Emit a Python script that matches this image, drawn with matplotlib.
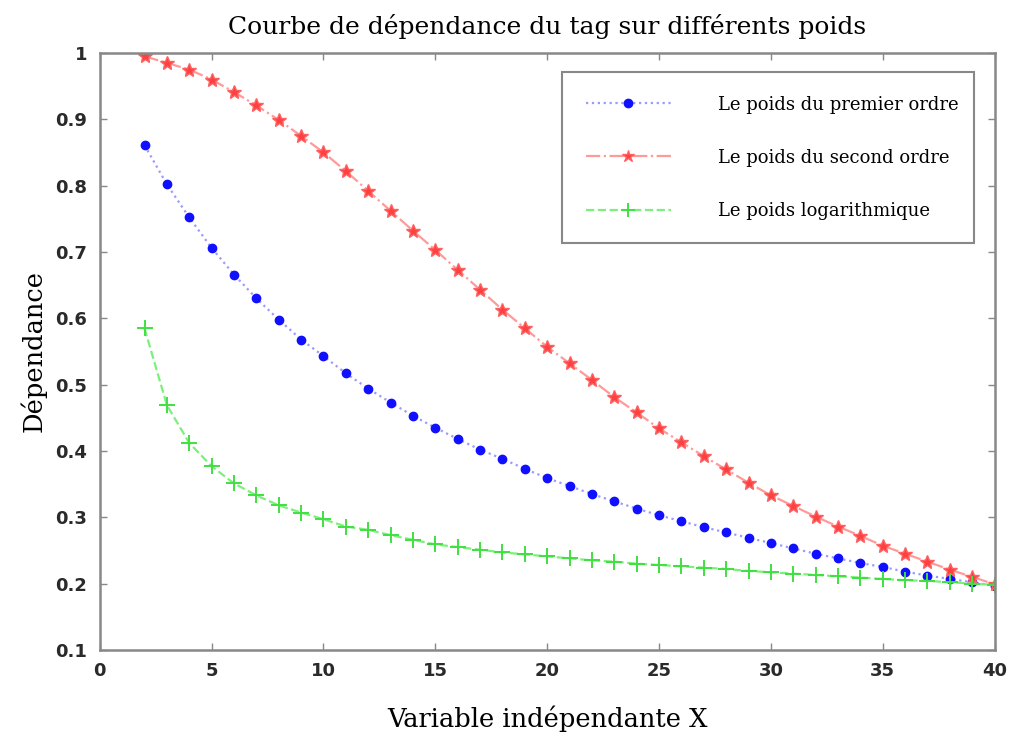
import matplotlib
matplotlib.use("Agg")
import matplotlib.pyplot as plt
from matplotlib.lines import Line2D

x = list(range(2, 41))

premier_ordre = [0.861, 0.802, 0.752, 0.706, 0.666, 0.630, 0.598, 0.568, 0.543,
                 0.517, 0.494, 0.473, 0.453, 0.435, 0.418, 0.402, 0.388, 0.373,
                 0.359, 0.347, 0.335, 0.324, 0.313, 0.303, 0.294, 0.285, 0.277,
                 0.269, 0.261, 0.253, 0.245, 0.238, 0.231, 0.225, 0.218, 0.212,
                 0.207, 0.202, 0.197]
second_ordre = [0.995, 0.985, 0.975, 0.960, 0.941, 0.921, 0.899, 0.875, 0.850,
                0.822, 0.792, 0.762, 0.732, 0.703, 0.673, 0.643, 0.613, 0.585,
                0.557, 0.532, 0.507, 0.481, 0.458, 0.434, 0.413, 0.392, 0.372,
                0.352, 0.333, 0.317, 0.301, 0.286, 0.272, 0.257, 0.245, 0.233,
                0.221, 0.210, 0.199]
logarithmique = [0.585, 0.469, 0.412, 0.377, 0.351, 0.333, 0.318, 0.307, 0.297,
                 0.286, 0.281, 0.273, 0.266, 0.259, 0.255, 0.251, 0.247, 0.244,
                 0.241, 0.238, 0.235, 0.233, 0.230, 0.228, 0.226, 0.224, 0.222,
                 0.219, 0.217, 0.215, 0.213, 0.211, 0.209, 0.207, 0.205, 0.204,
                 0.202, 0.200, 0.198]

labels = ["Le poids du premier ordre", "Le poids du second ordre",
          "Le poids logarithmique"]
xticks = [0, 5, 10, 15, 20, 25, 30, 35, 40]
yticks = [0.1, 0.2, 0.3, 0.4, 0.5, 0.6, 0.7, 0.8, 0.9, 1.0]
ytick_labels = ["0.1", "0.2", "0.3", "0.4", "0.5", "0.6", "0.7", "0.8", "0.9", "1"]

serif = ["DejaVu Serif"]
sans = ["DejaVu Sans"]

fig = plt.figure(figsize=(10.18, 7.36), dpi=100)
ax = fig.add_axes([0.098, 0.117, 0.879, 0.811])

ax.plot(x, premier_ordre, linestyle=":", color="#9a9aff", linewidth=1.6,
        marker="o", markersize=6, markerfacecolor="#1010ff",
        markeredgecolor="#1010ff")
ax.plot(x, second_ordre, linestyle="-.", color="#ff9a9a", linewidth=1.6,
        marker="*", markersize=10, markerfacecolor="#ff4040",
        markeredgecolor="#ff6060")
ax.plot(x, logarithmique, linestyle="--", color="#7cf07c", linewidth=1.6,
        marker="+", markersize=12, markeredgewidth=1.4,
        markeredgecolor="#40e040")

ax.set_xlim(0, 40)
ax.set_ylim(0.1, 1.0)
ax.set_xticks(xticks)
ax.set_yticks(yticks)
ax.set_xticklabels([str(t) for t in xticks], family=sans, fontweight="bold",
                   fontsize=13, color="#2a2a2a")
ax.set_yticklabels(ytick_labels, family=sans, fontweight="bold",
                   fontsize=13, color="#2a2a2a")
ax.tick_params(direction="in", top=True, right=True, length=5,
               color="#888888", width=1, pad=9)
for s in ax.spines.values():
    s.set_color("#888888")
    s.set_linewidth(1.8)

ax.set_title("Courbe de dépendance du tag sur différents poids",
             family=serif, fontsize=18, pad=14)
ax.set_xlabel("Variable indépendante X", family=serif, fontsize=18.5, labelpad=18)
ax.set_ylabel("Dépendance", family=serif, fontsize=18.5, labelpad=6)

handles = [
    Line2D([], [], linestyle=":", color="#9a9aff", linewidth=1.6, marker="o",
           markersize=6, markerfacecolor="#1010ff", markeredgecolor="#1010ff"),
    Line2D([], [], linestyle="-.", color="#ff9a9a", linewidth=1.6, marker="*",
           markersize=9, markerfacecolor="#ff4040", markeredgecolor="#ff6060"),
    Line2D([], [], linestyle="--", color="#7cf07c", linewidth=1.6, marker="+",
           markersize=10, markeredgewidth=1.4, markeredgecolor="#40e040"),
]
leg = ax.legend(handles, labels, loc="upper left",
                bbox_to_anchor=(0.517, 0.675, 0.460, 0.293), mode="expand",
                borderaxespad=0,
                prop={"family": serif, "size": 13}, handlelength=4.7,
                handletextpad=2.6, labelspacing=1.95, borderpad=1.3,
                fancybox=False, edgecolor="#888888", framealpha=1)
leg.get_frame().set_linewidth(1.5)

fig.savefig("out.png", dpi=100)
